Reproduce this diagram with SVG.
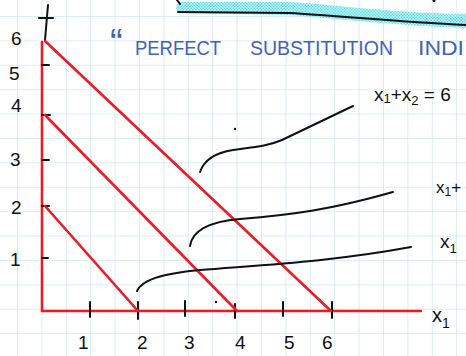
<svg xmlns="http://www.w3.org/2000/svg" width="466" height="356" viewBox="0 0 466 356">
<defs>
<pattern id="grid" patternUnits="userSpaceOnUse" x="17" y="16" width="24.4" height="24.4">
<path d="M0,0 H24.4 M0,0 V24.4" fill="none" stroke="#cfe8f7" stroke-width="1.6"/>
</pattern>
<pattern id="hatch" patternUnits="userSpaceOnUse" width="3" height="3">
<rect width="3" height="3" fill="#c8f6f9"/>
<rect width="1.5" height="1.5" fill="#5ee0ee"/>
<rect x="1.5" y="1.5" width="1.5" height="1.5" fill="#5ee0ee"/>
</pattern>
<style>
.red{fill:none;stroke:#ec1c24;stroke-width:2.6;stroke-linecap:round}
.ink{fill:none;stroke:#111;stroke-width:2;stroke-linecap:round;stroke-linejoin:round}
.num{font-family:"Liberation Sans",sans-serif;font-size:19px;fill:#111}
.lab{font-family:"Liberation Sans",sans-serif;fill:#111}
.blue{font-family:"Liberation Sans",sans-serif;font-size:21px;fill:#3f63b8}
</style>
</defs>
<rect width="466" height="356" fill="#ffffff"/>
<rect width="466" height="356" fill="url(#grid)"/>

<g id="banner">
<path d="M180,2 L290,2 C330,4 390,13 466,14 L466,28 C400,26 340,19 290,15 L180,13 C175,12 175,3 180,2 Z" fill="url(#hatch)"/>
<path class="ink" d="M178,12 L290,13 C340,16 400,22 466,25" stroke-width="1.6"/>
<path class="ink" d="M177,0 L180,4" stroke-width="1.4"/>
<circle cx="434" cy="0.5" r="1.5" fill="#111"/>
</g>

<g id="title">
<text class="blue" x="110" y="56" style="font-size:38px">“</text>
<text class="blue" x="135" y="55" textLength="86" lengthAdjust="spacingAndGlyphs">PERFECT</text>
<text class="blue" x="250" y="55" textLength="143" lengthAdjust="spacingAndGlyphs">SUBSTITUTION</text>
<text class="blue" x="418" y="55" textLength="46" lengthAdjust="spacingAndGlyphs">INDI</text>
</g>

<g id="connectors">
<g id="axes">
<path class="red" d="M42,42 V311 H421"/>
<path class="ink" d="M45,40 L48,5 M39,18 H53"/>
<path class="ink" d="M42,65 H49 M42,115 H50 M42,160 H49 M42,206 H49 M42,258 H48"/>
<path class="ink" d="M90,302 V317 M138,302 V319 M185,301 V316 M235,304 V318 M283,302 V316 M332,302 V318"/>
</g>
<g id="budget-lines">
<path class="red" d="M45,41 L331,311"/>
<path class="red" d="M45,115 L237,311"/>
<path class="red" d="M45,206 L138,311"/>
</g>
<g id="pointers">
<path class="ink" d="M200,172 C204,160 214,153 233,150 C255,147 268,146 282,140 L353,106"/>
<path class="ink" d="M190,246 C192,232 205,222 240,219 C290,215 330,210 393,192"/>
<path class="ink" d="M137,291 C142,280 160,274 200,270 C260,265 330,262 411,247"/>
</g>
</g>

<g id="y-labels">
<text class="num" x="11" y="45">6</text>
<text class="num" x="9" y="80">5</text>
<text class="num" x="11" y="112">4</text>
<text class="num" x="10" y="166">3</text>
<text class="num" x="11" y="214">2</text>
<text class="num" x="10" y="266">1</text>
</g>

<g id="x-labels">
<text class="num" x="78" y="349">1</text>
<text class="num" x="137" y="349">2</text>
<text class="num" x="184" y="349">3</text>
<text class="num" x="235" y="349">4</text>
<text class="num" x="284" y="349">5</text>
<text class="num" x="322" y="349">6</text>
<text class="lab" x="432" y="322" font-size="20">x<tspan font-size="14" dy="6">1</tspan></text>
</g>

<g id="curve-labels">
<text class="lab" x="374" y="101" font-size="19">x<tspan font-size="13" dy="2">1</tspan><tspan dy="-2">+x</tspan><tspan font-size="13" dy="4">2</tspan><tspan dy="-4"> = 6</tspan></text>
<text class="lab" x="436" y="193" font-size="17">x<tspan font-size="12" dy="3">1</tspan><tspan dy="-3">+</tspan></text>
<text class="lab" x="440" y="248" font-size="19">x<tspan font-size="13" dy="5">1</tspan></text>
</g>

<g id="dots">
<circle cx="235" cy="129" r="1.2" fill="#111"/>
<circle cx="216" cy="302" r="1.2" fill="#111"/>
</g>
</svg>
